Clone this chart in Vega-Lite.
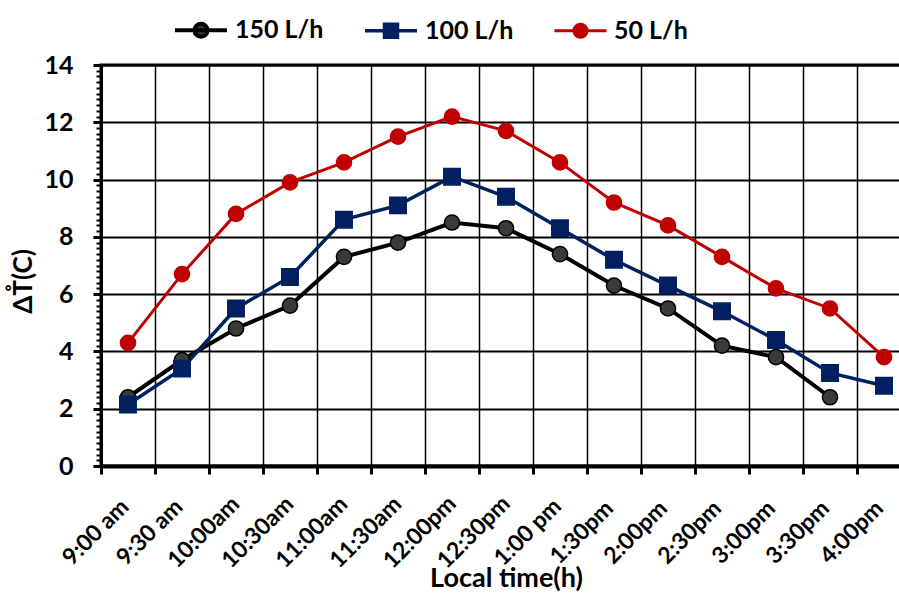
{
  "$schema": "https://vega.github.io/schema/vega-lite/v6.json",
  "width": 810,
  "height": 401,
  "autosize": {"type": "none"},
  "padding": {"left": 101, "top": 65, "right": 0, "bottom": 129},
  "config": {"view": {"stroke": "black", "strokeWidth": 3}, "font": "Lato"},
  "data": {"values": [
    {"time": "9:00 am", "series": "150 L/h", "value": 2.4},
    {"time": "9:30 am", "series": "150 L/h", "value": 3.7},
    {"time": "10:00am", "series": "150 L/h", "value": 4.8},
    {"time": "10:30am", "series": "150 L/h", "value": 5.6},
    {"time": "11:00am", "series": "150 L/h", "value": 7.3},
    {"time": "11:30am", "series": "150 L/h", "value": 7.8},
    {"time": "12:00pm", "series": "150 L/h", "value": 8.5},
    {"time": "12:30pm", "series": "150 L/h", "value": 8.3},
    {"time": "1:00 pm", "series": "150 L/h", "value": 7.4},
    {"time": "1:30pm", "series": "150 L/h", "value": 6.3},
    {"time": "2:00pm", "series": "150 L/h", "value": 5.5},
    {"time": "2:30pm", "series": "150 L/h", "value": 4.2},
    {"time": "3:00pm", "series": "150 L/h", "value": 3.8},
    {"time": "3:30pm", "series": "150 L/h", "value": 2.4},
    {"time": "9:00 am", "series": "100 L/h", "value": 2.15},
    {"time": "9:30 am", "series": "100 L/h", "value": 3.4},
    {"time": "10:00am", "series": "100 L/h", "value": 5.5},
    {"time": "10:30am", "series": "100 L/h", "value": 6.6},
    {"time": "11:00am", "series": "100 L/h", "value": 8.6},
    {"time": "11:30am", "series": "100 L/h", "value": 9.1},
    {"time": "12:00pm", "series": "100 L/h", "value": 10.1},
    {"time": "12:30pm", "series": "100 L/h", "value": 9.4},
    {"time": "1:00 pm", "series": "100 L/h", "value": 8.3},
    {"time": "1:30pm", "series": "100 L/h", "value": 7.2},
    {"time": "2:00pm", "series": "100 L/h", "value": 6.3},
    {"time": "2:30pm", "series": "100 L/h", "value": 5.4},
    {"time": "3:00pm", "series": "100 L/h", "value": 4.4},
    {"time": "3:30pm", "series": "100 L/h", "value": 3.25},
    {"time": "4:00pm", "series": "100 L/h", "value": 2.8},
    {"time": "9:00 am", "series": "50 L/h", "value": 4.3},
    {"time": "9:30 am", "series": "50 L/h", "value": 6.7},
    {"time": "10:00am", "series": "50 L/h", "value": 8.8},
    {"time": "10:30am", "series": "50 L/h", "value": 9.9},
    {"time": "11:00am", "series": "50 L/h", "value": 10.6},
    {"time": "11:30am", "series": "50 L/h", "value": 11.5},
    {"time": "12:00pm", "series": "50 L/h", "value": 12.2},
    {"time": "12:30pm", "series": "50 L/h", "value": 11.7},
    {"time": "1:00 pm", "series": "50 L/h", "value": 10.6},
    {"time": "1:30pm", "series": "50 L/h", "value": 9.2},
    {"time": "2:00pm", "series": "50 L/h", "value": 8.4},
    {"time": "2:30pm", "series": "50 L/h", "value": 7.3},
    {"time": "3:00pm", "series": "50 L/h", "value": 6.2},
    {"time": "3:30pm", "series": "50 L/h", "value": 5.5},
    {"time": "4:00pm", "series": "50 L/h", "value": 3.8}
  ]},
  "encoding": {
    "x": {
      "field": "time", "type": "ordinal",
      "sort": ["9:00 am", "9:30 am", "10:00am", "10:30am", "11:00am", "11:30am", "12:00pm", "12:30pm", "1:00 pm", "1:30pm", "2:00pm", "2:30pm", "3:00pm", "3:30pm", "4:00pm"],
      "scale": {"type": "band", "paddingInner": 0, "paddingOuter": 0}
    },
    "y": {"field": "value", "type": "quantitative", "scale": {"domain": [0, 14]}}
  },
  "layer": [
    {
      "mark": {"type": "line"},
      "encoding": {
        "x": {
          "field": "time", "type": "ordinal",
          "sort": ["9:00 am", "9:30 am", "10:00am", "10:30am", "11:00am", "11:30am", "12:00pm", "12:30pm", "1:00 pm", "1:30pm", "2:00pm", "2:30pm", "3:00pm", "3:30pm", "4:00pm"],
          "scale": {"type": "band", "paddingInner": 0, "paddingOuter": 0},
          "axis": {
            "title": null, "bandPosition": 0, "labels": false, "orient": "bottom",
            "tickColor": "black", "tickSize": 8, "tickWidth": 3,
            "domainColor": "black", "domainWidth": 4,
            "grid": true, "gridColor": "black", "gridWidth": 1.5, "gridOpacity": 1
          }
        },
        "y": {"field": "value", "type": "quantitative", "scale": {"domain": [0, 14]},
          "axis": {
            "title": "ΔT̊(C)", "values": [0, 2, 4, 6, 8, 10, 12, 14], "orient": "left",
            "grid": true, "gridColor": "black", "gridWidth": 2, "gridOpacity": 1,
            "tickColor": "black", "tickSize": 8, "tickWidth": 3,
            "domainColor": "black", "domainWidth": 3,
            "labelFont": "Lato", "labelFontWeight": "bold", "labelFontSize": 25, "labelColor": "black", "labelPadding": 20,
            "titleFont": "Lato", "titleFontSize": 26, "titleFontWeight": "bold", "titleColor": "black",
            "titleX": -78, "titleY": 216, "titleBaseline": "middle", "titleAlign": "center"
          }
        },
        "color": {
          "field": "series", "type": "nominal",
          "scale": {"domain": ["150 L/h", "100 L/h", "50 L/h"], "range": ["#000000", "#002060", "#C00000"]},
          "legend": {
            "orient": "none", "legendX": 72, "legendY": -63, "direction": "horizontal",
            "title": null, "symbolSize": 2704, "symbolStrokeWidth": 3,
            "labelFont": "Lato", "labelFontSize": 25, "labelFontWeight": "bold", "labelColor": "black",
            "labelOffset": 6, "columnPadding": 34,
            "encode": {"symbols": {"update": {
              "shape": {"signal": "datum.value == '100 L/h' ? 'M-1,0H1M-0.25,-0.25H0.25V0.25H-0.25Z' : 'M-1,0H1M-0.25,0A0.25,0.25 0 1,0 0.25,0A0.25,0.25 0 1,0 -0.25,0'"},
              "fill": {"signal": "datum.value == '150 L/h' ? '#3a3a3a' : datum.value == '100 L/h' ? '#002060' : '#C00000'"},
              "stroke": {"signal": "datum.value == '150 L/h' ? '#000000' : datum.value == '100 L/h' ? '#002060' : '#C00000'"},
              "strokeWidth": {"value": 3}
            }}}
          }
        },
        "strokeWidth": {
          "field": "series", "type": "nominal",
          "scale": {"domain": ["150 L/h", "100 L/h", "50 L/h"], "range": [4, 3, 3]},
          "legend": null
        }
      }
    },
    {
      "transform": [{"filter": "datum.series != '100 L/h'"}],
      "mark": {"type": "point", "shape": "circle", "filled": true, "opacity": 1, "strokeWidth": 1.5, "size": 230},
      "encoding": {
        "x": {
          "field": "time", "type": "ordinal",
          "sort": ["9:00 am", "9:30 am", "10:00am", "10:30am", "11:00am", "11:30am", "12:00pm", "12:30pm", "1:00 pm", "1:30pm", "2:00pm", "2:30pm", "3:00pm", "3:30pm", "4:00pm"],
          "scale": {"type": "band", "paddingInner": 0, "paddingOuter": 0},
          "axis": {
            "title": "Local time(h)", "orient": "bottom", "bandPosition": 0.5,
            "ticks": false, "grid": false, "domain": false, "tickSize": 0,
            "labelAngle": -45, "labelAlign": "center", "labelBaseline": "middle",
            "labelPadding": 66, "labelOffset": -32, "labelOverlap": false,
            "labelFont": "Lato", "labelFontWeight": "bold", "labelFontSize": 23, "labelColor": "black",
            "titleFont": "Lato", "titleFontSize": 27, "titleFontWeight": "bold", "titleColor": "black",
            "titleY": 112, "titleBaseline": "middle"
          }
        },
        "y": {"field": "value", "type": "quantitative", "scale": {"domain": [0, 14]},
          "axis": {
            "orient": "left", "title": null, "labels": false, "grid": false, "domain": false,
            "tickColor": "black", "tickSize": 5, "tickWidth": 2,
            "values": [0.2,0.4,0.6,0.8,1,1.2,1.4,1.6,1.8,2.2,2.4,2.6,2.8,3,3.2,3.4,3.6,3.8,4.2,4.4,4.6,4.8,5,5.2,5.4,5.6,5.8,6.2,6.4,6.6,6.8,7,7.2,7.4,7.6,7.8,8.2,8.4,8.6,8.8,9,9.2,9.4,9.6,9.8,10.2,10.4,10.6,10.8,11,11.2,11.4,11.6,11.8,12.2,12.4,12.6,12.8,13,13.2,13.4,13.6,13.8]
          }
        },
        "fill": {
          "field": "series", "type": "nominal",
          "scale": {"domain": ["150 L/h", "100 L/h", "50 L/h"], "range": ["#3a3a3a", "#002060", "#C00000"]},
          "legend": null
        },
        "stroke": {
          "field": "series", "type": "nominal",
          "scale": {"domain": ["150 L/h", "100 L/h", "50 L/h"], "range": ["#000000", "#002060", "#C00000"]},
          "legend": null
        }
      }
    },
    {
      "transform": [{"filter": "datum.series == '100 L/h'"}],
      "mark": {"type": "point", "shape": "square", "filled": true, "opacity": 1, "strokeWidth": 1.5, "size": 270},
      "encoding": {
        "x": {
          "field": "time", "type": "ordinal",
          "sort": ["9:00 am", "9:30 am", "10:00am", "10:30am", "11:00am", "11:30am", "12:00pm", "12:30pm", "1:00 pm", "1:30pm", "2:00pm", "2:30pm", "3:00pm", "3:30pm", "4:00pm"],
          "scale": {"type": "band", "paddingInner": 0, "paddingOuter": 0},
          "axis": null
        },
        "y": {"field": "value", "type": "quantitative", "scale": {"domain": [0, 14]}, "axis": null},
        "fill": {
          "field": "series", "type": "nominal",
          "scale": {"domain": ["150 L/h", "100 L/h", "50 L/h"], "range": ["#3a3a3a", "#002060", "#C00000"]},
          "legend": null
        },
        "stroke": {
          "field": "series", "type": "nominal",
          "scale": {"domain": ["150 L/h", "100 L/h", "50 L/h"], "range": ["#000000", "#002060", "#C00000"]},
          "legend": null
        }
      }
    }
  ],
  "resolve": {"axis": {"y": "independent", "x": "independent"}}
}
